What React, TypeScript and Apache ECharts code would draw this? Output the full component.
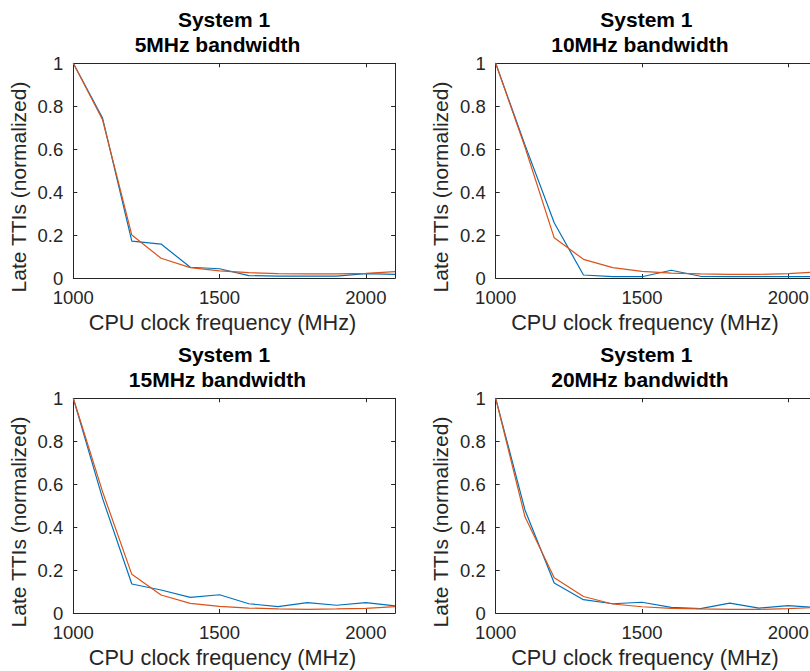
import React, { useEffect, useRef } from "react";
import * as echarts from "echarts";

// CPU clock frequency samples (MHz)
const freq = [1000, 1100, 1200, 1300, 1400, 1500, 1600, 1700, 1800, 1900, 2000, 2100];

// Panel headings
const bandwidths = ["5MHz bandwidth", "10MHz bandwidth", "15MHz bandwidth", "20MHz bandwidth"];

// Late TTIs (normalized), first and second curve per bandwidth
const bw5Blue = [1.0, 0.745, 0.172, 0.158, 0.05, 0.043, 0.011, 0.009, 0.009, 0.009, 0.02, 0.017];
const bw5Orange = [1.0, 0.737, 0.2, 0.092, 0.048, 0.033, 0.025, 0.02, 0.019, 0.019, 0.022, 0.03];
const bw10Blue = [1.0, 0.62, 0.257, 0.014, 0.006, 0.006, 0.036, 0.008, 0.006, 0.006, 0.006, 0.006];
const bw10Orange = [1.0, 0.61, 0.187, 0.087, 0.048, 0.031, 0.023, 0.019, 0.017, 0.017, 0.02, 0.028];
const bw15Blue = [1.0, 0.534, 0.135, 0.107, 0.073, 0.085, 0.043, 0.03, 0.048, 0.036, 0.048, 0.033];
const bw15Orange = [1.0, 0.565, 0.18, 0.084, 0.045, 0.031, 0.023, 0.019, 0.017, 0.019, 0.022, 0.03];
const bw20Blue = [1.0, 0.48, 0.14, 0.062, 0.043, 0.05, 0.026, 0.02, 0.046, 0.023, 0.034, 0.025];
const bw20Orange = [1.0, 0.448, 0.164, 0.077, 0.042, 0.029, 0.022, 0.019, 0.017, 0.017, 0.02, 0.026];

const blueSets = [bw5Blue, bw10Blue, bw15Blue, bw20Blue];
const orangeSets = [bw5Orange, bw10Orange, bw15Orange, bw20Orange];

// Layout (px)
const COL_LEFT = [73.3, 495.7];
const ROW_TOP = [63.3, 398.3];
const PLOT_W = 321.8;
const PLOT_H = 214.7;
const ROW_SHIFT = 335;
const COL_SHIFT = 422.4;

const FONT = "'Liberation Sans', Arial, Helvetica, sans-serif";
const AXIS_COLOR = "#262626";
const BLUE = "#0072BD";
const ORANGE = "#D95319";

export default function App() {
  const ref = useRef<HTMLDivElement>(null);

  useEffect(() => {
    if (!ref.current) return;
    const chart = echarts.init(ref.current, null, { renderer: "svg" });

    const grids: any[] = [];
    const xAxes: any[] = [];
    const yAxes: any[] = [];
    const series: any[] = [];
    const graphics: any[] = [];

    const lineStyle = { color: AXIS_COLOR, width: 1 };

    for (let p = 0; p < 4; p++) {
      const col = p % 2;
      const row = Math.floor(p / 2);
      grids.push({
        left: COL_LEFT[col],
        top: ROW_TOP[row],
        width: PLOT_W,
        height: PLOT_H,
        containLabel: false,
        outerBoundsMode: "none",
      });

      const xBase = {
        type: "value",
        gridIndex: p,
        min: 1000,
        max: 2100,
        interval: 500,
        splitLine: { show: false },
        axisLine: { show: true, onZero: false, lineStyle },
        axisTick: { show: true, inside: true, length: 4, lineStyle },
      };
      xAxes.push({
        ...xBase,
        position: "bottom",
        axisLabel: {
          show: true,
          showMaxLabel: false,
          margin: 10,
          color: AXIS_COLOR,
          fontSize: 18.5,
          fontFamily: FONT,
          formatter: (v: number) => String(v),
        },
      });
      xAxes.push({ ...xBase, position: "top", axisLabel: { show: false } });

      const yBase = {
        type: "value",
        gridIndex: p,
        min: 0,
        max: 1,
        interval: 0.2,
        splitLine: { show: false },
        axisLine: { show: true, onZero: false, lineStyle },
        axisTick: { show: true, inside: true, length: 4, lineStyle },
      };
      yAxes.push({
        ...yBase,
        position: "left",
        axisLabel: {
          show: true,
          margin: 10,
          color: AXIS_COLOR,
          fontSize: 18.5,
          fontFamily: FONT,
          formatter: (v: number) => String(Math.round(v * 10) / 10),
        },
      });
      yAxes.push({ ...yBase, position: "right", axisLabel: { show: false } });

      const sets = [
        { data: blueSets[p], color: BLUE },
        { data: orangeSets[p], color: ORANGE },
      ];
      sets.forEach((s) => {
        series.push({
          type: "line",
          xAxisIndex: p * 2,
          yAxisIndex: p * 2,
          data: freq.map((f, i) => [f, s.data[i]]),
          showSymbol: false,
          symbol: "none",
          lineStyle: { color: s.color, width: 1.2 },
          itemStyle: { color: s.color },
        });
      });

      const dx = col * COL_SHIFT;
      const dy = row * ROW_SHIFT;

      // two-line bold heading
      graphics.push({
        type: "text",
        x: 224 + dx,
        y: 19.2 + dy,
        style: {
          text: "System 1",
          align: "center",
          verticalAlign: "middle",
          font: `bold 21px ${FONT}`,
          fill: "#000000",
        },
      });
      graphics.push({
        type: "text",
        x: 217.5 + dx,
        y: 44.8 + dy,
        style: {
          text: bandwidths[p],
          align: "center",
          verticalAlign: "middle",
          font: `bold 21px ${FONT}`,
          fill: "#000000",
        },
      });
      // x-axis name
      graphics.push({
        type: "text",
        x: 222.5 + dx,
        y: 322 + dy,
        style: {
          text: "CPU clock frequency (MHz)",
          align: "center",
          verticalAlign: "middle",
          font: `21.7px ${FONT}`,
          fill: AXIS_COLOR,
        },
      });
      // y-axis name
      graphics.push({
        type: "text",
        x: 18.5 + dx,
        y: 187 + dy,
        rotation: Math.PI / 2,
        style: {
          text: "Late TTIs (normalized)",
          align: "center",
          verticalAlign: "middle",
          font: `21px ${FONT}`,
          fill: AXIS_COLOR,
        },
      });
    }

    chart.setOption({
      animation: false,
      backgroundColor: "#ffffff",
      grid: grids,
      xAxis: xAxes,
      yAxis: yAxes,
      series,
      graphic: graphics,
    });

    return () => chart.dispose();
  }, []);

  return (
    <div
      ref={ref}
      style={{ position: "fixed", left: 0, top: 0, width: 810, height: 671, background: "#fff" }}
    />
  );
}
